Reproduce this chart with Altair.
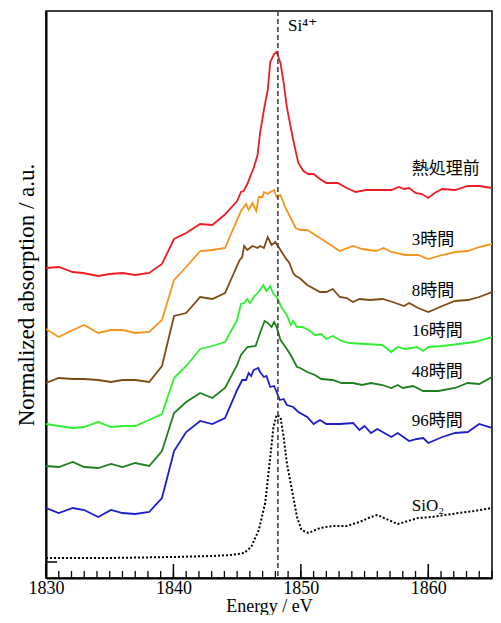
import altair as alt
import pandas as pd

# ---------------- data ----------------
series_names = ["熱処理前", "3時間", "8時間", "16時間", "48時間", "96時間"]
series_colors = ["#ee1c24", "#f7941d", "#7d4b14", "#2ef02e", "#1f7f1f", "#1e1ec8"]

e_red = [1830.0, 1831.0, 1832.1, 1832.9, 1834.1, 1835.0, 1836.0, 1837.0, 1838.1, 1839.1,
         1840.05, 1841.0, 1842.1, 1843.05, 1844.0, 1845.0, 1845.3, 1845.5, 1845.8, 1846.1,
         1846.3, 1846.6, 1846.8, 1847.1, 1847.4, 1847.6, 1847.9, 1848.1, 1848.4, 1848.65,
         1848.9, 1849.2, 1849.4, 1849.8, 1850.2, 1850.6, 1851.0, 1851.5, 1852.0, 1852.9,
         1853.6, 1854.3, 1855.1, 1856.1, 1857.1, 1857.7, 1858.1, 1858.5, 1859.0, 1859.5,
         1860.0, 1860.5, 1861.1, 1862.1, 1863.1, 1864.0, 1865.0]
a_red = [2.94, 2.95, 2.90, 2.89, 2.86, 2.88, 2.89, 2.87, 2.89, 2.98,
         3.23, 3.29, 3.38, 3.37, 3.47, 3.61, 3.70, 3.71, 3.78, 3.88,
         3.94, 4.07, 4.29, 4.52, 4.72, 5.00, 5.08, 5.10, 4.99, 4.79,
         4.55, 4.35, 4.22, 3.99, 3.91, 3.88, 3.88, 3.83, 3.79, 3.79,
         3.74, 3.70, 3.72, 3.72, 3.72, 3.75, 3.73, 3.74, 3.69, 3.68,
         3.64, 3.69, 3.73, 3.72, 3.76, 3.76, 3.74]

e_3h = [1830.0, 1831.0, 1832.1, 1833.0, 1834.1, 1835.1, 1836.0, 1837.0, 1838.1, 1839.1,
        1840.05, 1841.0, 1842.1, 1843.05, 1844.05, 1845.3, 1845.7, 1845.9, 1846.2, 1846.5,
        1846.7, 1847.0, 1847.1, 1847.4, 1847.6, 1847.9, 1848.1, 1848.4, 1848.8, 1849.2,
        1849.6, 1849.95, 1850.5, 1851.5, 1853.05, 1854.1, 1854.8, 1855.9, 1856.5, 1857.1,
        1858.2, 1859.2, 1860.0, 1861.1, 1862.1, 1863.1, 1864.0, 1865.0]
a_3h = [2.33, 2.25, 2.32, 2.37, 2.29, 2.32, 2.32, 2.29, 2.30, 2.42,
        2.82, 2.95, 3.11, 3.12, 3.14, 3.51, 3.58, 3.52, 3.59, 3.51,
        3.65, 3.65, 3.70, 3.68, 3.70, 3.72, 3.65, 3.67, 3.54, 3.44,
        3.34, 3.32, 3.32, 3.24, 3.11, 3.16, 3.13, 3.11, 3.14, 3.10,
        3.07, 3.07, 3.03, 3.07, 3.10, 3.11, 3.15, 3.18]

e_8h = [1830.0, 1831.0, 1832.1, 1833.0, 1834.1, 1835.1, 1836.0, 1837.0, 1838.1, 1839.1,
        1840.05, 1841.0, 1842.1, 1843.05, 1844.05, 1845.2, 1845.4, 1845.55, 1845.8, 1846.2,
        1846.6, 1846.8, 1847.1, 1847.4, 1847.7, 1848.0, 1848.3, 1848.8, 1849.1, 1849.4,
        1849.6, 1849.9, 1850.5, 1851.5, 1852.0, 1852.5, 1853.05, 1853.6, 1854.1, 1854.6,
        1855.4, 1856.4, 1857.2, 1858.1, 1858.5, 1859.2, 1860.0, 1861.1, 1862.1, 1863.1,
        1864.0, 1865.0]
a_8h = [1.79, 1.84, 1.83, 1.83, 1.82, 1.80, 1.82, 1.82, 1.80, 1.96,
        2.46, 2.49, 2.65, 2.63, 2.69, 3.02, 3.05, 3.16, 3.12, 3.16,
        3.14, 3.16, 3.14, 3.25, 3.17, 3.20, 3.14, 3.04, 2.99, 2.89,
        2.86, 2.84, 2.77, 2.70, 2.70, 2.73, 2.65, 2.64, 2.60, 2.63,
        2.62, 2.63, 2.60, 2.56, 2.59, 2.54, 2.50, 2.56, 2.61, 2.62,
        2.65, 2.70]

e_16h = [1830.0, 1831.0, 1832.1, 1833.0, 1834.1, 1835.1, 1836.0, 1837.0, 1838.1, 1839.1,
         1840.05, 1841.0, 1842.1, 1843.05, 1844.05, 1845.0, 1845.3, 1845.55, 1845.8, 1846.0,
         1846.3, 1846.6, 1846.8, 1847.05, 1847.3, 1847.6, 1847.85, 1848.1, 1848.3, 1848.5,
         1848.9, 1849.2, 1849.4, 1849.7, 1850.1, 1850.6, 1851.1, 1851.6, 1852.0, 1852.5,
         1853.2, 1853.8, 1855.1, 1856.4, 1857.1, 1857.6, 1858.2, 1859.1, 1859.6, 1860.0,
         1861.1, 1862.4, 1863.6, 1865.0]
a_16h = [1.38, 1.36, 1.34, 1.35, 1.40, 1.35, 1.36, 1.36, 1.42, 1.48,
         1.84, 1.96, 2.13, 2.16, 2.20, 2.42, 2.58, 2.59, 2.63, 2.59,
         2.65, 2.69, 2.72, 2.77, 2.71, 2.76, 2.68, 2.65, 2.60, 2.54,
         2.47, 2.37, 2.41, 2.35, 2.35, 2.32, 2.27, 2.28, 2.23, 2.26,
         2.21, 2.19, 2.18, 2.17, 2.10, 2.15, 2.13, 2.15, 2.11, 2.15,
         2.16, 2.18, 2.20, 2.25]

e_48h = [1830.0, 1831.0, 1832.1, 1833.0, 1834.1, 1835.1, 1836.0, 1837.0, 1838.1, 1839.1,
         1840.05, 1841.0, 1842.1, 1843.05, 1844.05, 1845.0, 1845.3, 1845.8, 1846.45, 1846.8,
         1847.15, 1847.4, 1847.7, 1847.9, 1848.1, 1848.4, 1848.8, 1849.2, 1849.7, 1849.95,
         1850.5, 1851.1, 1851.6, 1852.5, 1853.2, 1854.1, 1854.8, 1855.5, 1856.4, 1857.1,
         1857.6, 1858.0, 1858.8, 1859.6, 1860.8, 1862.1, 1863.1, 1864.0, 1865.0]
a_48h = [0.96, 0.95, 1.00, 0.95, 0.94, 0.98, 0.95, 0.99, 0.96, 1.11,
         1.49, 1.60, 1.69, 1.64, 1.74, 1.97, 2.07, 2.15, 2.16, 2.29,
         2.41, 2.39, 2.35, 2.40, 2.35, 2.22, 2.15, 2.07, 1.95, 1.94,
         1.90, 1.87, 1.83, 1.82, 1.79, 1.79, 1.77, 1.79, 1.77, 1.74,
         1.77, 1.74, 1.76, 1.71, 1.71, 1.74, 1.79, 1.78, 1.85]

e_96h = [1830.0, 1831.0, 1832.1, 1833.0, 1834.1, 1835.1, 1836.0, 1837.0, 1838.1, 1839.1,
         1840.05, 1841.0, 1842.1, 1843.05, 1844.05, 1845.0, 1845.4, 1845.7, 1845.9, 1846.1,
         1846.3, 1846.65, 1846.8, 1847.1, 1847.3, 1847.6, 1847.9, 1848.1, 1848.35, 1848.65,
         1848.9, 1849.4, 1849.8, 1850.5, 1851.0, 1851.5, 1852.0, 1853.05, 1854.1, 1854.6,
         1855.0, 1855.5, 1856.0, 1857.1, 1857.6, 1858.5, 1859.1, 1859.6, 1860.0, 1861.1,
         1862.1, 1863.1, 1864.0, 1865.0]
a_96h = [0.54, 0.49, 0.54, 0.52, 0.45, 0.52, 0.49, 0.48, 0.50, 0.64,
         1.11, 1.30, 1.41, 1.38, 1.44, 1.72, 1.82, 1.82, 1.89, 1.86,
         1.92, 1.94, 1.90, 1.85, 1.86, 1.75, 1.76, 1.70, 1.62, 1.63,
         1.57, 1.55, 1.50, 1.45, 1.38, 1.42, 1.38, 1.38, 1.39, 1.32,
         1.36, 1.29, 1.33, 1.25, 1.29, 1.21, 1.23, 1.24, 1.19, 1.25,
         1.29, 1.30, 1.38, 1.34]

e_sio2 = [1830.0, 1835.0, 1840.0, 1843.0, 1844.5, 1845.55, 1846.1, 1846.7, 1847.2, 1847.6,
          1847.85, 1848.1, 1848.4, 1848.65, 1848.9, 1849.3, 1849.7, 1850.05, 1850.6, 1851.5,
          1852.5, 1853.6, 1854.6, 1855.5, 1856.0, 1856.7, 1857.6, 1858.4, 1859.2, 1860.3,
          1861.3, 1862.4, 1863.6, 1865.0]
a_sio2 = [0.04, 0.04, 0.05, 0.06, 0.07, 0.09, 0.15, 0.32, 0.59, 1.05,
          1.35, 1.47, 1.45, 1.25, 0.99, 0.72, 0.45, 0.32, 0.29, 0.34,
          0.36, 0.36, 0.40, 0.45, 0.47, 0.43, 0.38, 0.41, 0.44, 0.45,
          0.47, 0.49, 0.51, 0.54]

si4_energy = [1848.2]

label_text = ["Si⁴⁺", "熱処理前", "3時間", "8時間", "16時間", "48時間", "96時間", "SiO₂"]
label_e = [1849.0, 1858.7, 1858.7, 1858.7, 1858.7, 1858.7, 1858.7, 1858.7]
label_a = [5.36, 3.93, 3.22, 2.71, 2.31, 1.90, 1.41, 0.56]

x_major = [1830, 1840, 1850, 1860]
x_minor = list(range(1830, 1866))
y_ticks = [0]

# ---------------- tables ----------------
rows = []
for name, es, as_ in zip(series_names,
                         [e_red, e_3h, e_8h, e_16h, e_48h, e_96h],
                         [a_red, a_3h, a_8h, a_16h, a_48h, a_96h]):
    for e, a in zip(es, as_):
        rows.append({"series": name, "E": e, "A": a})
df = pd.DataFrame(rows)
df_sio2 = pd.DataFrame({"E": e_sio2, "A": a_sio2})
df_rule = pd.DataFrame({"E": si4_energy})
df_lab = pd.DataFrame({"label": label_text, "lx": label_e, "ly": label_a})
df_major = pd.DataFrame({"t": x_major})
df_minor = pd.DataFrame({"t": x_minor})
df_yt = pd.DataFrame({"v": y_ticks})

SERIF = "Liberation Serif"
MIXED = "Liberation Serif, DejaVu Serif, Noto Sans CJK JP"
W, H = 446, 567
Y0, Y1 = -0.16, 5.51          # y-scale limits
X0, X1 = 1830, 1865           # x-scale limits

xscale = alt.Scale(domain=[X0, X1], nice=False, zero=False)
yscale = alt.Scale(domain=[Y0, Y1], nice=False, zero=False)

# tick lengths expressed through the scales (14 px, 7 px, 11 px)
MAJOR_LEN = 14 * (Y1 - Y0) / H
MINOR_LEN = 7 * (Y1 - Y0) / H
YTICK_LEN = 11 * (X1 - X0) / W

bottom_axis = alt.Axis(orient="bottom", values=x_major, format="d", ticks=False, grid=False,
                       domain=True, domainColor="black", domainWidth=2,
                       labelFont=SERIF, labelFontSize=18, labelColor="black",
                       labelPadding=1, title="Energy / eV", titleFont=SERIF,
                       titleFontSize=18, titleFontWeight="normal", titleColor="black",
                       titlePadding=0, labelFlush=False)
left_axis = alt.Axis(orient="left", labels=False, ticks=False, grid=False,
                     domain=True, domainColor="black", domainWidth=2,
                     title="Normalized absorption / a.u.", titleFont=SERIF,
                     titleFontSize=23, titleFontWeight="normal", titleColor="black",
                     titlePadding=8)

lines = alt.Chart(df).mark_line(strokeWidth=1.8, clip=True).encode(
    x=alt.X("E:Q", scale=xscale, axis=bottom_axis),
    y=alt.Y("A:Q", scale=yscale, axis=left_axis),
    color=alt.Color("series:N", scale=alt.Scale(domain=series_names, range=series_colors),
                    legend=None),
)

sio2 = alt.Chart(df_sio2).mark_line(color="black", strokeDash=[2, 2], strokeWidth=2,
                                    clip=True).encode(
    x=alt.X("E:Q", scale=xscale),
    y=alt.Y("A:Q", scale=yscale),
)

rule = alt.Chart(df_rule).mark_rule(color="#444444", strokeDash=[5, 3],
                                    strokeWidth=1.6).encode(
    x=alt.X("E:Q", scale=xscale),
)

# inward ticks on the bottom axis (major / minor) and the zero tick on the left axis
major_ticks = alt.Chart(df_major).mark_rule(color="black", strokeWidth=1.5).encode(
    x=alt.X("t:Q", scale=xscale),
    y=alt.datum(Y0), y2=alt.datum(Y0 + MAJOR_LEN),
)
minor_ticks = alt.Chart(df_minor).mark_rule(color="black", strokeWidth=1.3).encode(
    x=alt.X("t:Q", scale=xscale),
    y=alt.datum(Y0), y2=alt.datum(Y0 + MINOR_LEN),
)
y_tick = alt.Chart(df_yt).mark_rule(color="black", strokeWidth=1.5).encode(
    y=alt.Y("v:Q", scale=yscale),
    x=alt.datum(X0), x2=alt.datum(X0 + YTICK_LEN),
)

labels = alt.Chart(df_lab).mark_text(align="left", baseline="middle", font=MIXED,
                                     fontSize=17, color="black").encode(
    x=alt.X("lx:Q", scale=xscale),
    y=alt.Y("ly:Q", scale=yscale),
    text="label:N",
)

chart = (
    alt.layer(lines, sio2, rule, major_ticks, minor_ticks, y_tick, labels)
    .properties(width=W, height=H,
                padding={"left": 38, "top": 3, "right": 1, "bottom": 37},
                autosize=alt.AutoSizeParams(type="none"))
    .configure_view(stroke="black", strokeWidth=1.5)
    .configure_axis(grid=False, labelFont=SERIF, titleFont=SERIF)
)

chart.save("out.html", embed_options={"renderer": "svg", "actions": False})
